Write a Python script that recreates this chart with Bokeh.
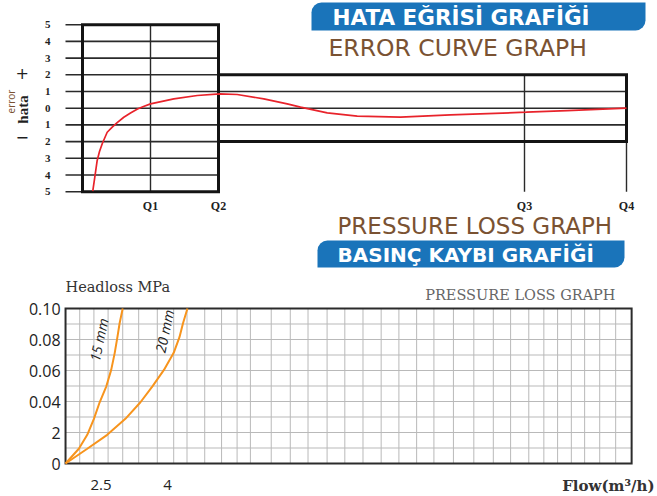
from bokeh.plotting import figure
from bokeh.layouts import column
from bokeh.models import BoxAnnotation, FixedTicker, Range1d
from bokeh.core.properties import value
from bokeh.embed import file_html
from bokeh.resources import INLINE

# ---------------- data: error curve ----------------
q_labels = ["Q1", "Q2", "Q3", "Q4"]
q_flow = [1.0, 2.0, 6.5, 8.0]
error_levels = [5, 4, 3, 2, 1, 0, -1, -2, -3, -4, -5]
low_zone_limit = 5      # +/- % from start to Q2
high_zone_limit = 2     # +/- % from Q2 to Q4
curve_flow = [0.151, 0.181, 0.216, 0.250, 0.290, 0.363, 0.437, 0.510, 0.607, 0.706, 0.809,
              0.897, 1.0, 1.343, 1.687, 2.019, 2.275, 2.666, 3.010, 3.206, 3.599, 4.040,
              4.676, 5.412, 6.525, 7.128, 8.0]
curve_error = [-4.97, -4.13, -3.13, -2.59, -2.13, -1.44, -1.13, -0.86, -0.54, -0.29, -0.05,
               0.10, 0.26, 0.56, 0.76, 0.86, 0.82, 0.56, 0.26, 0.06, -0.28, -0.48,
               -0.54, -0.40, -0.24, -0.14, 0.0]

# ---------------- data: pressure loss ----------------
flow_15 = [1.70, 2.00, 2.19, 2.34, 2.47, 2.62, 2.73, 2.81, 2.87, 2.92, 2.99]
loss_15 = [0.0, 0.0095, 0.0185, 0.0288, 0.0395, 0.0498, 0.0604, 0.0714, 0.0815, 0.0905, 0.100]
flow_20 = [1.70, 2.19, 2.64, 3.05, 3.39, 3.66, 3.92, 4.14, 4.27, 4.35, 4.45]
loss_20 = [0.0, 0.0095, 0.0185, 0.0288, 0.0395, 0.0498, 0.0604, 0.0714, 0.0815, 0.0905, 0.100]
flow_min, flow_max = 1.70, 14.47
loss_max = 0.10
flow_ticks = [2.5, 4.0]
flow_tick_labels = ["2.5", "4"]
loss_ticks = [0.0, 0.02, 0.04, 0.06, 0.08, 0.10]
loss_tick_labels = ["0", "2", "0.04", "0.06", "0.08", "0.10"]
loss_grid = [0.01, 0.02, 0.03, 0.04, 0.05, 0.06, 0.07, 0.08, 0.09]
flow_grid = [2.02, 2.34, 2.66, 2.99, 3.35, 3.77, 4.14, 4.44, 4.84, 5.22, 5.57, 5.87,
             6.34, 6.77, 7.17, 7.60, 8.00, 8.41, 8.82, 9.22, 9.62, 10.01, 10.45, 10.91,
             11.35, 11.74, 12.15, 12.49, 12.80, 13.11, 13.41, 13.75, 14.11]
curve_names = ["15 mm", "20 mm"]

BLUE = "#1a74ba"
BROWN = "#7a5232"
RED = "#e8232b"
ORANGE = "#f7941d"
DARK = "#1f1f1f"

W = 656
H_TOP = 272
H_BOT = 223

# ---------------- top: error curve ----------------
def tx(px):
    return (px - 82.0) / 68.0

def ty(py):
    return (107.7 - py) / 16.7

top = figure(width=W, height=H_TOP, x_range=Range1d(tx(0), tx(W)),
             y_range=Range1d(ty(H_TOP), ty(0)), output_backend="svg",
             toolbar_location=None, min_border=0)
top.grid.visible = False
top.outline_line_color = None
top.background_fill_color = "white"
top.border_fill_color = "white"

yax = top.yaxis[0]
yax.fixed_location = tx(55)
yax.ticker = FixedTicker(ticks=error_levels)
yax.major_label_overrides = {v: str(abs(v)) for v in error_levels}
yax.major_label_text_font = "Liberation Serif"
yax.major_label_text_font_style = "bold"
yax.major_label_text_font_size = "11px"
yax.major_label_standoff = 5

xax = top.xaxis[0]
xax.fixed_location = ty(197)
xax.ticker = FixedTicker(ticks=q_flow)
xax.major_label_overrides = dict(zip(q_flow, q_labels))
xax.major_label_text_font = "Liberation Serif"
xax.major_label_text_font_style = "bold"
xax.major_label_text_font_size = "12px"
xax.major_label_standoff = 1

for ax in (xax, yax):
    ax.axis_line_color = None
    ax.major_tick_line_color = None
    ax.minor_tick_line_color = None
    ax.major_tick_out = 0
    ax.major_tick_in = 0
    ax.major_label_text_color = DARK

# banners (underneath the text)
top.add_layout(BoxAnnotation(left=tx(311), right=tx(645), top=ty(2), bottom=ty(30),
                             fill_color=BLUE, fill_alpha=1, line_color=None,
                             border_radius=(10, 0, 10, 0), level="underlay"))
top.add_layout(BoxAnnotation(left=tx(317), right=tx(624), top=ty(240), bottom=ty(267),
                             fill_color=BLUE, fill_alpha=1, line_color=None,
                             border_radius=(10, 0, 10, 0), level="underlay"))

stub = 0.25
x0s, x1s, ys = [], [], []
for v in error_levels:
    x0s.append(-stub); x1s.append(q_flow[1]); ys.append(v)
    if abs(v) < high_zone_limit:
        x0s.append(q_flow[1]); x1s.append(q_flow[3]); ys.append(v)
top.segment(x0=x0s, y0=ys, x1=x1s, y1=ys, line_color="#2a2a2a", line_width=1.6)

vtop = [low_zone_limit if q <= q_flow[1] else high_zone_limit for q in q_flow]
top.segment(x0=q_flow, y0=[-low_zone_limit] * len(q_flow), x1=q_flow, y1=vtop,
            line_color="#2a2a2a", line_width=1.4)

top.quad(left=[0, q_flow[1]], right=[q_flow[1], q_flow[3]],
         top=[low_zone_limit, high_zone_limit], bottom=[-low_zone_limit, -high_zone_limit],
         fill_color=None, line_color="#141414", line_width=3, line_join="miter")

top.line(curve_flow, curve_error, line_color=RED, line_width=1.7)

# side labels
top.text(x=[tx(10)], y=[ty(101)], text=["error"], angle=90, angle_units="deg",
         text_align="center", text_baseline="middle", text_font=value("Open Sans"),
         text_font_size="10px", text_color=BROWN)
top.text(x=[tx(22)], y=[ty(109)], text=["hata"], angle=90, angle_units="deg",
         text_align="center", text_baseline="middle", text_font=value("Liberation Serif"),
         text_font_style="bold", text_font_size="15px", text_color=DARK)
top.text(x=[tx(21.7), tx(21.7)], y=[ty(72.7), ty(136.7)], text=["+", "\u2212"],
         text_align="center", text_baseline="middle",
         text_font=value("DejaVu Sans"), text_font_size="16px", text_color=DARK)

# titles
top.text(x=[tx(332)], y=[ty(16.5)], text=["HATA EĞRİSİ GRAFİĞİ"], text_color="white",
         text_font=value("DejaVu Sans"), text_font_style="bold", text_font_size="21.5px",
         text_baseline="middle", text_align="left")
top.text(x=[tx(328)], y=[ty(47)], text=["ERROR CURVE GRAPH"], text_color=BROWN,
         text_font=value("DejaVu Sans"), text_font_size="23.5px",
         text_baseline="middle", text_align="left")
top.text(x=[tx(337)], y=[ty(225)], text=["PRESSURE LOSS GRAPH"], text_color=BROWN,
         text_font=value("DejaVu Sans"), text_font_size="23px",
         text_baseline="middle", text_align="left")
top.text(x=[tx(337)], y=[ty(254)], text=["BASINÇ KAYBI GRAFİĞİ"], text_color="white",
         text_font=value("DejaVu Sans"), text_font_style="bold", text_font_size="20px",
         text_baseline="middle", text_align="left")

# ---------------- bottom: pressure loss ----------------
Y0 = H_TOP  # image row where the bottom figure starts

def bx(px):
    return 2.5 + (px - 100.5) / 44.33

def by(py):
    return (463.0 - py) / 1550.0

bot = figure(width=W, height=H_BOT, x_range=Range1d(bx(0), bx(W)),
             y_range=Range1d(by(Y0 + H_BOT), by(Y0)), output_backend="svg",
             toolbar_location=None, min_border=0)
bot.background_fill_color = "white"
bot.border_fill_color = "white"
bot.outline_line_color = None
bot.grid.visible = False

bot.segment(x0=flow_grid, y0=[0] * len(flow_grid), x1=flow_grid, y1=[loss_max] * len(flow_grid),
            line_color="#b9b9b9", line_width=1)
bot.segment(x0=[flow_min] * len(loss_grid), y0=loss_grid, x1=[flow_max] * len(loss_grid),
            y1=loss_grid, line_color="#b9b9b9", line_width=1)
bot.quad(left=[flow_min], right=[flow_max], bottom=[0], top=[loss_max], fill_color=None,
         line_color="#2b2b2b", line_width=2, line_join="miter")

bxa = bot.xaxis[0]
bxa.fixed_location = 0
bxa.ticker = FixedTicker(ticks=flow_ticks)
bxa.major_label_overrides = dict(zip(flow_ticks, flow_tick_labels))
bxa.major_label_standoff = 16
bya = bot.yaxis[0]
bya.fixed_location = flow_min
bya.ticker = FixedTicker(ticks=loss_ticks)
bya.major_label_overrides = dict(zip(loss_ticks, loss_tick_labels))
bya.major_label_standoff = 5
for ax in (bxa, bya):
    ax.axis_line_color = None
    ax.major_tick_line_color = None
    ax.minor_tick_line_color = None
    ax.major_tick_out = 0
    ax.major_tick_in = 0
    ax.major_label_text_font = "Open Sans"
    ax.major_label_text_font_size = "16px"
    ax.major_label_text_color = "#222222"
bxa.major_label_text_font_size = "15px"

bot.line(flow_15, loss_15, line_color=ORANGE, line_width=2)
bot.line(flow_20, loss_20, line_color=ORANGE, line_width=2)

bot.text(x=[bx(98.3), bx(164)], y=[by(339.3), by(330.7)], text=curve_names,
         angle=78, angle_units="deg", text_align="center", text_baseline="middle",
         text_font=value("Open Sans"), text_font_style="italic", text_font_size="14px",
         text_color="#222222")
bot.text(x=[bx(65)], y=[by(286)], text=["Headloss MPa"], text_align="left",
         text_baseline="middle", text_font=value("DejaVu Serif"), text_font_size="14.5px",
         text_color="#333333")
bot.text(x=[bx(615)], y=[by(294.5)], text=["PRESSURE LOSS GRAPH"], text_align="right",
         text_baseline="middle", text_font=value("DejaVu Serif"), text_font_size="14.5px",
         text_color="#666666")
bot.text(x=[bx(654)], y=[by(485)], text=["Flow(m³/h)"], text_align="right",
         text_baseline="middle", text_font=value("DejaVu Serif"), text_font_style="bold",
         text_font_size="15px", text_color="#333333")

layout = column(top, bot, spacing=0)
open("out.html", "w").write(file_html(layout, INLINE))
